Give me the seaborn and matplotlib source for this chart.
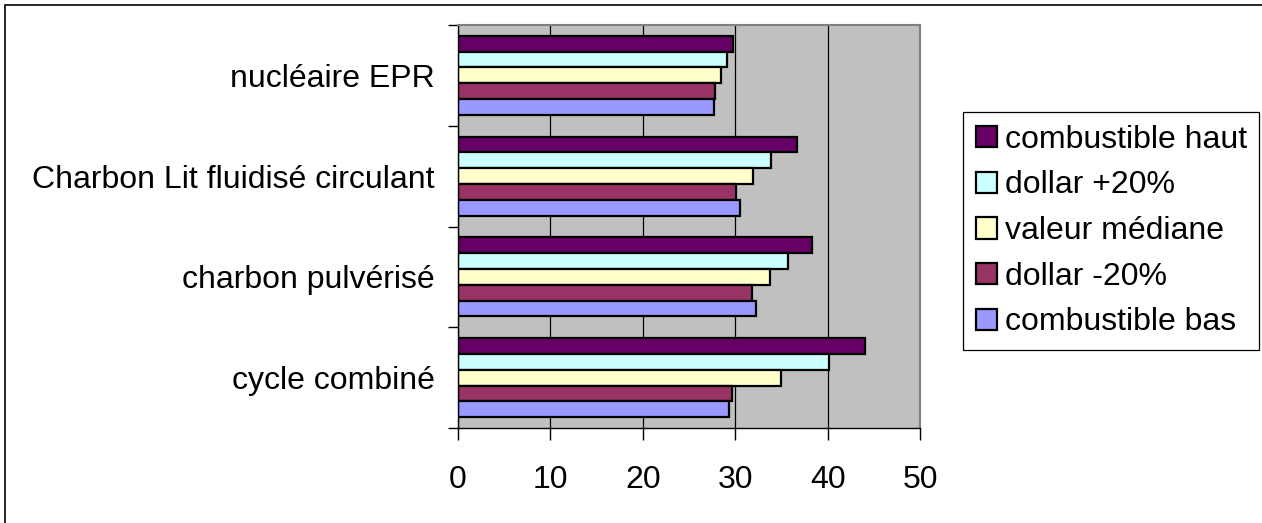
import matplotlib
matplotlib.use("Agg")
import matplotlib.pyplot as plt
from matplotlib.patches import Rectangle
from matplotlib.ticker import FixedLocator
import seaborn as sns
import pandas as pd

# ---- data ----
categories = ["nucléaire EPR", "Charbon Lit fluidisé circulant", "charbon pulvérisé", "cycle combiné"]
series = ["combustible haut", "dollar +20%", "valeur médiane", "dollar -20%", "combustible bas"]
combustible_haut = [29.8, 36.7, 38.3, 44.0]
dollar_plus20 = [29.15, 33.9, 35.7, 40.2]
valeur_mediane = [28.45, 31.95, 33.8, 34.95]
dollar_moins20 = [27.85, 30.1, 31.85, 29.7]
combustible_bas = [27.7, 30.5, 32.2, 29.3]
x_ticks = [0, 10, 20, 30, 40, 50]
colors = ["#660066", "#CCFFFF", "#FFFFCC", "#993366", "#9999FF"]

values = [combustible_haut, dollar_plus20, valeur_mediane, dollar_moins20, combustible_bas]
rows = []
for s, vals in zip(series, values):
    for c, v in zip(categories, vals):
        rows.append({"category": c, "series": s, "value": v})
df = pd.DataFrame(rows)

sns.set_style("white")
plt.rcParams["font.family"] = ["Liberation Sans", "DejaVu Sans"]
plt.rcParams["text.color"] = "black"
plt.rcParams["xtick.color"] = "black"
plt.rcParams["ytick.color"] = "black"
plt.rcParams["axes.labelcolor"] = "black"
FS = 23

W, H = 1262, 523
fig = plt.figure(figsize=(W / 100, H / 100), dpi=100)
ax = fig.add_axes([458 / W, 95 / H, 462 / W, 403 / H])
ax.set_facecolor("#C0C0C0")
ax.set_axisbelow(True)

sns.barplot(data=df, y="category", x="value", hue="series", order=categories,
            hue_order=series, palette=colors, orient="h", width=0.784,
            edgecolor="black", linewidth=1.6, saturation=1, ax=ax, errorbar=None)

ax.set_xlim(0, 50)
ax.set_ylim(len(categories) - 0.5, -0.5)
ax.set_xlabel("")
ax.set_ylabel("")
ax.set_xticks(x_ticks)
ax.set_xticklabels([str(t) for t in x_ticks], fontsize=FS, color="black")
ax.tick_params(axis="x", direction="out", length=8.5, width=1, color="black", pad=18, bottom=True,
               labelcolor="black")
ax.yaxis.set_minor_locator(FixedLocator([i - 0.5 for i in range(len(categories) + 1)]))
ax.tick_params(axis="y", which="minor", direction="out", length=7, width=1, color="black", left=True)
ax.tick_params(axis="y", which="major", length=0, pad=17, labelsize=FS, labelcolor="black")

ax.grid(axis="x", color="black", linewidth=0.9)
ax.grid(axis="y", visible=False)

for side in ["left", "bottom"]:
    ax.spines[side].set_color("black")
    ax.spines[side].set_linewidth(1.0)
for side in ["top", "right"]:
    ax.spines[side].set_color("#808080")
    ax.spines[side].set_linewidth(1.5)
    ax.spines[side].set_visible(True)

leg = ax.get_legend()
handles, labels = ax.get_legend_handles_labels()
if leg is not None:
    leg.remove()
fl = fig.legend(handles, labels, loc="upper left",
                bbox_to_anchor=(963 / W, 1 - 112 / H), bbox_transform=fig.transFigure,
                fontsize=FS, frameon=True, fancybox=False, framealpha=1,
                edgecolor="black", borderpad=0.4, handlelength=0.65, handleheight=0.65,
                handletextpad=0.25, labelspacing=0.49, borderaxespad=0)
fl.get_frame().set_linewidth(0.9)
for t in fl.get_texts():
    t.set_color("black")

fig.patches.append(Rectangle((4.5 / W, -0.1), 1.2, 1 - 4.5 / H + 0.1, transform=fig.transFigure,
                             fill=False, edgecolor="black", linewidth=1.2))

fig.savefig("out.png", dpi=100)
